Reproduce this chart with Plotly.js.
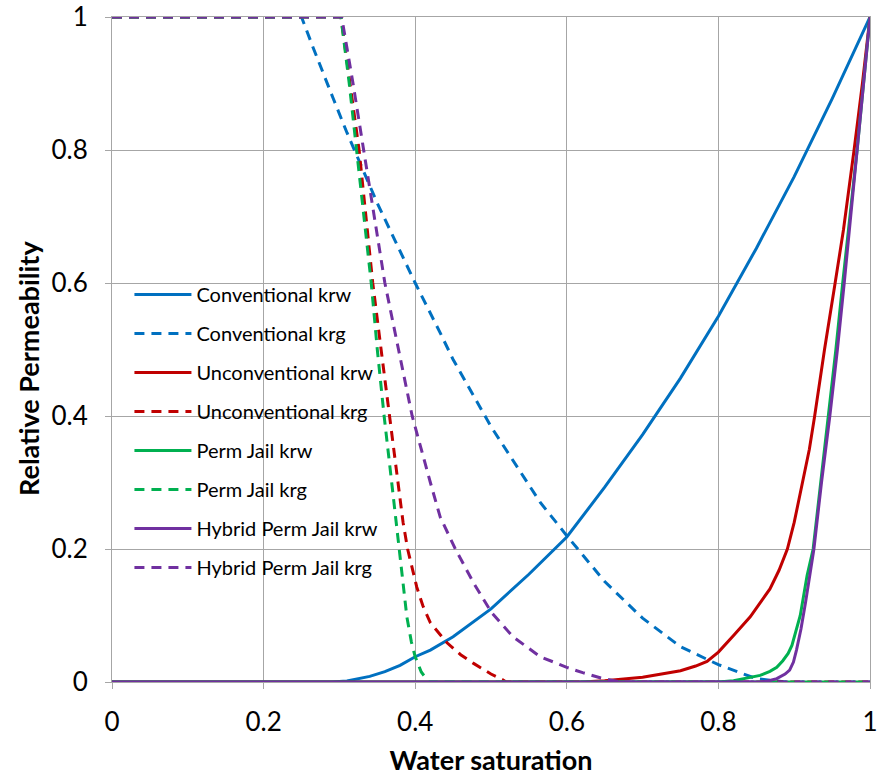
<!DOCTYPE html>
<html>
<head>
<meta charset="utf-8">
<script src="https://cdn.plot.ly/plotly-3.0.1.min.js"></script>
<style>html,body{margin:0;padding:0;background:#fff;}#chart{width:880px;height:776px;}</style>
</head>
<body>
<div id="chart"></div>
<script>
// Conventional
const convKrwX = [0, 0.29, 0.31, 0.32, 0.34, 0.36, 0.38, 0.4, 0.42, 0.45, 0.5, 0.55, 0.6, 0.65, 0.7, 0.75, 0.8, 0.85, 0.9, 0.95, 1];
const convKrwY = [0, 0, 0.0016, 0.004, 0.0085, 0.0155, 0.025, 0.038, 0.048, 0.068, 0.11, 0.162, 0.218, 0.293, 0.372, 0.457, 0.55, 0.652, 0.76, 0.877, 1];
const convKrgX = [0, 0.25, 0.265, 0.28, 0.292, 0.31, 0.33, 0.35, 0.375, 0.4, 0.433, 0.45, 0.5, 0.55, 0.565, 0.6, 0.65, 0.7, 0.75, 0.8, 0.85, 0.89, 1];
const convKrgY = [1, 1, 0.955, 0.91, 0.877, 0.826, 0.772, 0.72, 0.66, 0.6, 0.525, 0.485, 0.384, 0.295, 0.27, 0.22, 0.151, 0.096, 0.053, 0.026, 0.005, 0, 0];
// Unconventional
const uncKrwX = [0, 0.62, 0.65, 0.7, 0.75, 0.77, 0.785, 0.8, 0.82, 0.842, 0.855, 0.868, 0.88, 0.891, 0.9, 0.911, 0.92, 0.927, 0.94, 0.954, 0.965, 0.979, 0.99, 1];
const uncKrwY = [0, 0, 0.002, 0.007, 0.017, 0.024, 0.031, 0.045, 0.07, 0.098, 0.119, 0.14, 0.168, 0.2, 0.24, 0.3, 0.35, 0.4, 0.5, 0.6, 0.68, 0.8, 0.9, 1];
const uncKrgX = [0, 0.302, 0.314, 0.326, 0.335, 0.344, 0.355, 0.366, 0.377, 0.384, 0.39, 0.396, 0.402, 0.41, 0.42, 0.442, 0.46, 0.477, 0.5, 0.516, 0.52, 1];
const uncKrgY = [1, 1, 0.9, 0.8, 0.7, 0.6, 0.5, 0.4, 0.3, 0.24, 0.2, 0.17, 0.143, 0.115, 0.089, 0.059, 0.041, 0.028, 0.012, 0.003, 0, 0];
// Perm Jail
const pjKrwX = [0, 0.8, 0.82, 0.84, 0.855, 0.868, 0.877, 0.885, 0.892, 0.897, 0.902, 0.908, 0.917, 0.925, 0.935, 0.945, 0.955, 0.964, 0.983, 1];
const pjKrwY = [0, 0, 0.002, 0.006, 0.01, 0.016, 0.022, 0.032, 0.043, 0.055, 0.075, 0.1, 0.16, 0.2, 0.3, 0.4, 0.5, 0.6, 0.8, 1];
const pjKrgX = [0, 0.302, 0.313, 0.323, 0.332, 0.342, 0.35, 0.359, 0.369, 0.379, 0.385, 0.389, 0.395, 0.4, 0.408, 0.415, 0.418, 1];
const pjKrgY = [1, 1, 0.9, 0.8, 0.7, 0.6, 0.5, 0.4, 0.3, 0.2, 0.14, 0.098, 0.06, 0.038, 0.015, 0.004, 0, 0];
// Hybrid Perm Jail
const hyKrwX = [0, 0.86, 0.877, 0.888, 0.894, 0.899, 0.903, 0.909, 0.915, 0.926, 0.936, 0.947, 0.957, 0.966, 0.983, 1];
const hyKrwY = [0, 0, 0.005, 0.012, 0.018, 0.03, 0.048, 0.08, 0.12, 0.2, 0.3, 0.4, 0.5, 0.6, 0.8, 1];
const hyKrgX = [0, 0.303, 0.318, 0.332, 0.346, 0.36, 0.378, 0.396, 0.42, 0.433, 0.453, 0.477, 0.501, 0.529, 0.565, 0.6, 0.621, 0.645, 0.67, 1];
const hyKrgY = [1, 1, 0.9, 0.8, 0.7, 0.6, 0.5, 0.4, 0.3, 0.248, 0.2, 0.149, 0.104, 0.068, 0.038, 0.022, 0.014, 0.006, 0, 0];

const seriesNames = ["Conventional krw", "Conventional krg", "Unconventional krw", "Unconventional krg",
  "Perm Jail krw", "Perm Jail krg", "Hybrid Perm Jail krw", "Hybrid Perm Jail krg"];
const tickVals = [0, 0.2, 0.4, 0.6, 0.8, 1];
const tickText = ["0", "0.2", "0.4", "0.6", "0.8", "1"];
const xTitle = "Water saturation";
const yTitle = "Relative Permeability";

const BLUE = "#0070C0", RED = "#C00000", GREEN = "#00B050", PURPLE = "#7030A0";
const DASH = "10px,7px";
const xs = [convKrwX, convKrgX, uncKrwX, uncKrgX, pjKrwX, pjKrgX, hyKrwX, hyKrgX];
const ys = [convKrwY, convKrgY, uncKrwY, uncKrgY, pjKrwY, pjKrgY, hyKrwY, hyKrgY];
const colors = [BLUE, BLUE, RED, RED, GREEN, GREEN, PURPLE, PURPLE];

const traces = seriesNames.map((n, i) => ({
  type: "scatter", mode: "lines", name: n, x: xs[i], y: ys[i],
  legendgroup: "g" + i,
  line: {color: colors[i], width: 3, dash: i % 2 === 0 ? "solid" : DASH}
}));

const FONT = "Lato, 'Open Sans', sans-serif";
const layout = {
  width: 880, height: 776,
  margin: {l: 112, r: 10, t: 17, b: 94},
  paper_bgcolor: "#fff", plot_bgcolor: "#fff",
  font: {family: FONT, color: "#000"},
  showlegend: true,
  legend: {x: 0.023, y: 0.612, xanchor: "left", yanchor: "top",
    bgcolor: "rgba(0,0,0,0)", font: {size: 20, family: FONT, color: "#000"},
    tracegroupgap: 10, traceorder: "grouped", itemwidth: 57},
  xaxis: {range: [0, 1], tickvals: tickVals, ticktext: tickText,
    showgrid: true, gridcolor: "#a6a6a6", gridwidth: 1,
    showline: true, linecolor: "#a6a6a6", mirror: true, zeroline: false,
    ticks: "outside", ticklen: 6, tickcolor: "#a6a6a6", ticklabelstandoff: 11,
    tickfont: {size: 26, family: FONT, color: "#000"},
    title: {text: "<b>" + xTitle + "</b>", font: {size: 27, family: FONT, color: "#000"}, standoff: 14}},
  yaxis: {range: [0, 1], tickvals: tickVals, ticktext: tickText,
    showgrid: true, gridcolor: "#a6a6a6", gridwidth: 1,
    showline: true, linecolor: "#a6a6a6", mirror: true, zeroline: false,
    ticks: "outside", ticklen: 6, tickcolor: "#a6a6a6", ticklabelstandoff: 12,
    tickfont: {size: 26, family: FONT, color: "#000"}},
  annotations: [{
    text: "<b>" + yTitle + "</b>", textangle: -90, showarrow: false,
    xref: "paper", yref: "paper", x: -0.111, y: 0.472, xanchor: "center", yanchor: "middle",
    font: {size: 27, family: FONT, color: "#000"}
  }]
};
Plotly.newPlot("chart", traces, layout, {displayModeBar: false, staticPlot: true});
</script>
</body>
</html>
